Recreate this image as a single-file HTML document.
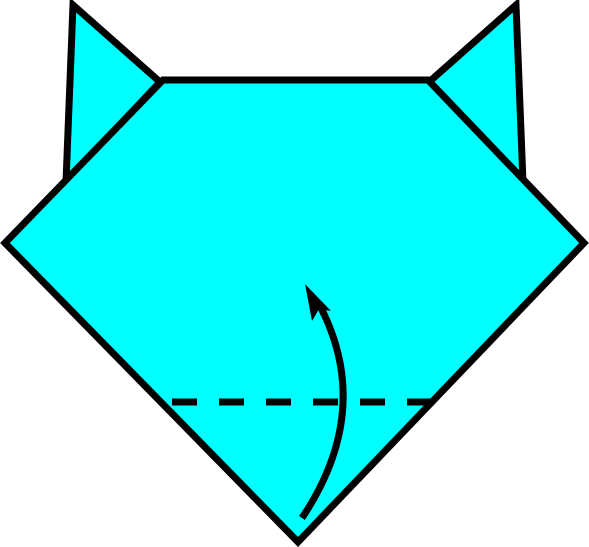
<!DOCTYPE html>
<html><head><meta charset="utf-8"><style>html,body{margin:0;padding:0;background:#fff}svg{display:block}</style></head>
<body>
<svg width="589" height="547" viewBox="0 0 589 547">
  <polygon points="73,5 160,82 66,182" fill="#00ffff" stroke="#000" stroke-width="7" stroke-linejoin="miter"/>
  <polygon points="516,5 429,82 523,182" fill="#00ffff" stroke="#000" stroke-width="7" stroke-linejoin="miter"/>
  <polygon points="163,80 428,80 584,243 298,542 5,243" fill="#00ffff" stroke="#000" stroke-width="7" stroke-linejoin="miter"/>
  <line x1="172" y1="402" x2="436" y2="402" stroke="#000" stroke-width="7" stroke-dasharray="25 22"/>
  <path d="M302,518 Q374,410 320,306" fill="none" stroke="#000" stroke-width="7"/>
  <polygon points="305,284 331,311 319,309 312,321" fill="#000"/>
</svg>
</body></html>
